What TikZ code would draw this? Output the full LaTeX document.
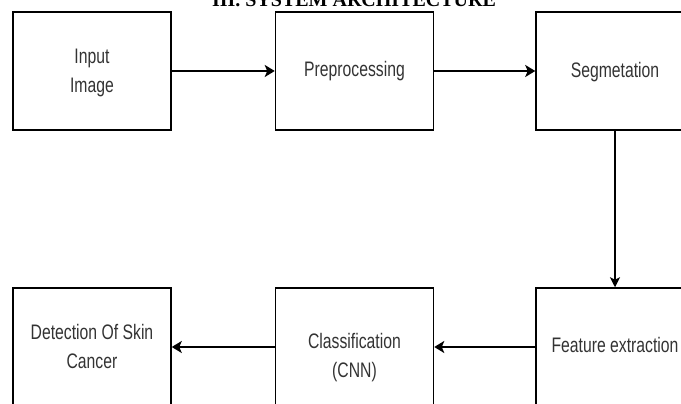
\documentclass[tikz,border=0pt]{standalone}
\usepackage{fontspec}
\usepackage{graphicx}
\setmainfont{Liberation Sans}
\newfontfamily\titlefont{Liberation Serif}
\usetikzlibrary{arrows.meta}
\newcommand{\boxtext}[1]{\scalebox{0.75}[1]{\begin{tabular}{@{}c@{}}#1\end{tabular}}}
\tikzset{
  flowbox/.style={draw=black, line width=1.5pt, minimum width=158pt, minimum height=118pt, inner sep=0pt},
  boxlabel/.style={inner sep=0pt, font=\fontsize{21}{29}\selectfont, text=black!80},
  thickarrow/.style={line width=2pt, -{Stealth[length=10pt,width=12pt,inset=2.5pt]}},
  thinarrow/.style={line width=1.2pt, -{Stealth[length=10pt,width=10pt,inset=2.5pt]}}
}
\begin{document}
\begin{tikzpicture}[x=1pt,y=-1pt]
\useasboundingbox (0,0) rectangle (681,404);
\clip (0,0) rectangle (681,404);
\node[font=\titlefont\bfseries\fontsize{20}{24}\selectfont, anchor=base] (title) at (354,7) {III. SYSTEM ARCHITECTURE};
\node[flowbox] (input) at (92,71) {};
\node[flowbox] (pre) at (354.5,71) {};
\node[flowbox] (seg) at (615,71) {};
\node[flowbox] (feat) at (615,347) {};
\node[flowbox] (cls) at (354.5,347) {};
\node[flowbox] (det) at (92,347) {};
\node[boxlabel] (inputlabel) at (92,72.5) {\boxtext{Input\\Image}};
\node[boxlabel] (prelabel) at (354.5,71) {\boxtext{Preprocessing}};
\node[boxlabel] (seglabel) at (615,72) {\boxtext{Segmetation}};
\node[boxlabel] (featlabel) at (615,347) {\boxtext{Feature extraction}};
\node[boxlabel] (clslabel) at (354.5,357.5) {\boxtext{Classification\\(CNN)}};
\node[boxlabel] (detlabel) at (92,348) {\boxtext{Detection Of Skin\\Cancer}};
\draw[thickarrow] (input.east) -- (pre.west);
\draw[thickarrow] (pre.east) -- (seg.west);
\draw[thinarrow] (seg.south) -- (feat.north);
\draw[thickarrow] (feat.west) -- (cls.east);
\draw[thickarrow] (cls.west) -- (det.east);
\end{tikzpicture}
\end{document}
